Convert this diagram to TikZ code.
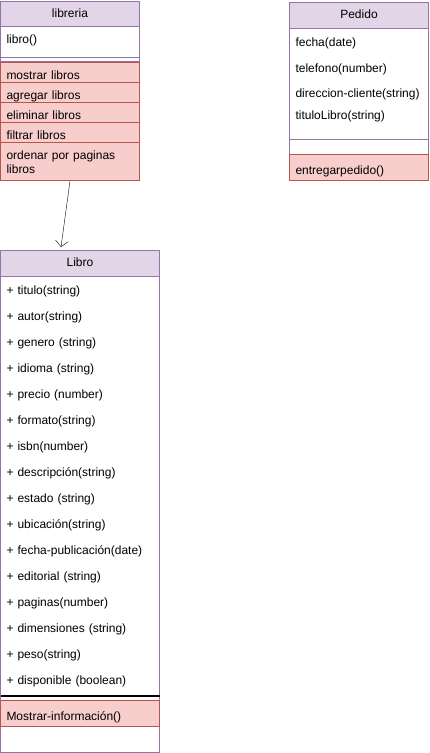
\documentclass[tikz,border=0pt]{standalone}
\usepackage{fontspec}
\setmainfont{Liberation Sans}
\usetikzlibrary{positioning}
\usetikzlibrary{arrows.meta}
\definecolor{umlfill}{HTML}{E1D5E7}
\definecolor{umlline}{HTML}{9673A6}
\definecolor{opfill}{HTML}{F8CECC}
\definecolor{opline}{HTML}{B85450}
\tikzset{>={Straight Barb[length=6pt,width=13pt]}, node distance=0pt, inner sep=0pt, outer sep=0pt, line width=1pt, font=\fontsize{12}{14}\selectfont}
\tikzstyle{classbox} = [draw=umlline, fill=white, rectangle, anchor=north west]
\tikzstyle{head} = [draw=umlline, fill=umlfill, rectangle, anchor=north west, minimum height=26pt, text height=10pt, text depth=3pt, align=center]
\tikzstyle{field} = [rectangle, align=left, inner xsep=6pt, minimum height=26pt, text height=11pt, text depth=3pt]
\tikzstyle{op} = [draw=opline, fill=opfill, rectangle, align=left, inner xsep=6pt, minimum height=20pt, text height=17pt, text depth=3pt]

\begin{document}
\begin{tikzpicture}[x=1pt, y=-1pt]
    \useasboundingbox (0,0) rectangle (430,753);

    % libreria
    \node [classbox, minimum width=139pt, minimum height=60pt] (libreria) at (0.5,1) {};
    \node [head, minimum width=139pt, minimum height=25pt] (libreria_name) at (0.5,1) {libreria};
    \node [field, text width=127pt, below=of libreria_name] (libro_fn) {libro()};
    \draw [umlline] ([yshift=4pt]libreria.south west) -- ([yshift=4pt]libreria.south east);
    \node [op, text width=127pt, below=1pt of libreria] (show_op) {mostrar libros};
    \node [op, text width=127pt, below=of show_op] (add_op) {agregar libros};
    \node [op, text width=127pt, below=of add_op] (del_op) {eliminar libros};
    \node [op, text width=127pt, below=of del_op] (filter_op) {filtrar libros};
    \node [op, text width=127pt, below=of filter_op, minimum height=38pt, text height=15.5pt, text depth=18.5pt] (sort_op) {ordenar por paginas\\libros};

    % Pedido
    \node [classbox, minimum width=139pt, minimum height=152pt] (pedido) at (289.5,2) {};
    \node [head, minimum width=139pt] (pedido_name) at (289.5,2) {Pedido};
    \node [field, text width=127pt, below=of pedido_name, minimum height=28pt] (fecha) {fecha(date)};
    \node [field, text width=127pt, below=of fecha, minimum height=24pt] (telefono) {telefono(number)};
    \node [field, text width=127pt, below=of telefono] (direccion) {direccion-cliente(string)};
    \node [field, text width=127pt, below=of direccion, minimum height=18pt] (titulo_libro) {tituloLibro(string)};
    \draw [umlline] ([yshift=15pt]pedido.south west) -- ([yshift=15pt]pedido.south east);
    \node [op, text width=127pt, below=of pedido, minimum height=26pt] (deliver_op) {entregarpedido()};

    % Libro
    \node [classbox, minimum width=159pt, minimum height=502pt] (libro) at (0.5,250) {};
    \node [head, minimum width=159pt] (libro_name) at (0.5,250) {Libro};
    \node [field, text width=147pt, below=1pt of libro_name] (titulo) {+ titulo(string)};
    \node [field, text width=147pt, below=of titulo] (autor) {+ autor(string)};
    \node [field, text width=147pt, below=of autor] (genero) {+ genero (string)};
    \node [field, text width=147pt, below=of genero] (idioma) {+ idioma (string)};
    \node [field, text width=147pt, below=of idioma] (precio) {+ precio (number)};
    \node [field, text width=147pt, below=of precio] (formato) {+ formato(string)};
    \node [field, text width=147pt, below=of formato] (isbn) {+ isbn(number)};
    \node [field, text width=147pt, below=of isbn] (descripcion) {+ descripción(string)};
    \node [field, text width=147pt, below=of descripcion] (estado) {+ estado (string)};
    \node [field, text width=147pt, below=of estado] (ubicacion) {+ ubicación(string)};
    \node [field, text width=147pt, below=of ubicacion] (fecha_pub) {+ fecha-publicación(date)};
    \node [field, text width=147pt, below=of fecha_pub] (editorial) {+ editorial (string)};
    \node [field, text width=147pt, below=of editorial] (paginas) {+ paginas(number)};
    \node [field, text width=147pt, below=of paginas] (dimensiones) {+ dimensiones (string)};
    \node [field, text width=147pt, below=of dimensiones] (peso) {+ peso(string)};
    \node [field, text width=147pt, below=of peso] (disponible) {+ disponible (boolean)};
    \draw [line width=1.6pt] ([yshift=56pt]libro.south west) -- ([yshift=56pt]libro.south east);
    \node [op, text width=147pt, below=7pt of disponible, minimum height=26pt] (show_info_op) {Mostrar-información()};

    \draw [->] ([yshift=-1pt]sort_op.south) -- ([xshift=-19pt,yshift=3pt]libro_name.north);
\end{tikzpicture}
\end{document}
